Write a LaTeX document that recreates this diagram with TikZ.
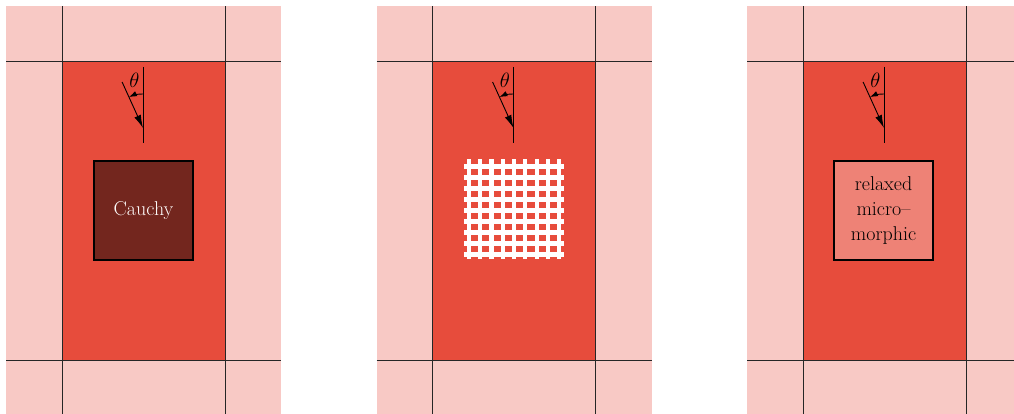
\documentclass[tikz,border=0pt]{standalone}
\usetikzlibrary{arrows.meta}
\definecolor{redA}{HTML}{E74C3C}
\colorlet{pinkA}{redA!30!white}
\colorlet{darkA}{redA!50!black}
\colorlet{salmonA}{redA!70!white}
\tikzset{
  gridline/.style={draw=black!85, line width=0.9pt},
  boxnode/.style={draw=black, line width=1.1pt, minimum width=99pt, minimum height=99pt, inner sep=0pt, font=\fontsize{20}{25}\selectfont, align=center},
  meshbar/.style={draw=white, line width=4.2pt},
  mainarrow/.style={line width=0.9pt, -{Latex[length=13pt,width=7pt]}},
  anglearrow/.style={line width=0.9pt, -{Latex[length=8pt,width=5.5pt]}},
}
\newcommand{\panelbase}{%
  \fill[pinkA] (6,0) rectangle (281,408);
  \fill[redA] (62,54) rectangle (225,353);
  \draw[gridline] (62,0) -- (62,408);
  \draw[gridline] (225,0) -- (225,408);
  \draw[gridline] (6,353) -- (281,353);
  \draw[gridline] (6,54) -- (281,54);
}
\newcommand{\thetamark}[1]{%
  \coordinate (#1top) at (143,347);
  \coordinate (#1bot) at (143,271);
  \coordinate (#1tip) at (143,286);
  \coordinate (#1start) at (122.1,332);
  \draw[line width=0.9pt] (#1top) -- (#1bot);
  \draw[mainarrow] (#1start) -- (#1tip);
  \draw[anglearrow] (#1tip) ++(90:34) arc[start angle=90, end angle=114.5, radius=34];
  \node[font=\fontsize{20}{20}\selectfont, inner sep=0pt] (#1theta) at (134.5,334) {$\theta$};
}
\begin{document}
\begin{tikzpicture}[x=1pt,y=1pt]
\useasboundingbox (0,0) rectangle (1014,414);
\clip (0,0) rectangle (1014,414);
% panel 1
\begin{scope}
  \panelbase
  \thetamark{a}
  \node[boxnode, fill=darkA, text=white!92!pinkA] (cauchy) at (143.5,203.5) {Cauchy};
\end{scope}
% panel 2
\begin{scope}[xshift=370.5pt]
  \panelbase
  \thetamark{b}
  \foreach \k in {0,...,8} {
    \draw[meshbar] ({143.5+(\k-4)*11.3},254.5) -- ({143.5+(\k-4)*11.3},155);
    \draw[meshbar] (93.5,{203.5+(\k-4)*11}) -- (193.5,{203.5+(\k-4)*11});
  }
  \coordinate (mesh) at (143.5,203.5);
\end{scope}
% panel 3
\begin{scope}[xshift=741pt]
  \panelbase
  \thetamark{c}
  \node[boxnode, fill=salmonA, text=black] (micro) at (142.5,203.5) {relaxed\\micro--\\morphic};
\end{scope}
\end{tikzpicture}
\end{document}
